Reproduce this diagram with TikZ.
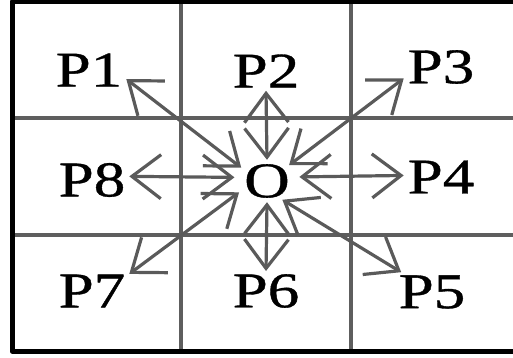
\documentclass[tikz,border=0pt]{standalone}
\usepackage{fontspec}
\setmainfont{Liberation Serif}
\newfontfamily\cellfont[FakeBold=0.7]{Liberation Serif}
\usetikzlibrary{arrows.meta,shapes.geometric}
\definecolor{gridgray}{HTML}{5E5E5E}
\definecolor{arrgray}{HTML}{5A5A5A}
\begin{document}
\begin{tikzpicture}[x=1pt,y=-1pt,line join=round,
		lbl/.style={font=\cellfont\fontsize{50}{50}\selectfont,xscale=1.26,inner sep=3pt},
		arr/.style={draw=arrgray,line width=3.2pt,{Straight Barb[length=29pt,width=44pt]}-{Straight Barb[length=29pt,width=44pt]}}]
	\useasboundingbox (0,0) rectangle (513,358);
	% grid
	\foreach \i in {181,351} {
		\draw[color=gridgray, line width=4.5pt] (\i,2) -- (\i,351);
	}
	\foreach \j in {118,235} {
		\draw[color=gridgray, line width=4.5pt] (12,\j) -- (513,\j);
	}
	\draw[line width=5pt] (513,2) -- (12,2) -- (12,351) -- (513,351);
	
	% cells
	\node[lbl] (P1) at (89,70) {P1};
	\node[lbl] (P2) at (266,71) {P2};
	\node[lbl] (P3) at (441,67) {P3};
	\node[lbl] (P8) at (92,180) {P8};
	\node[lbl,ellipse,inner xsep=0pt,inner ysep=-3.5pt,minimum width=52pt,minimum height=42pt] (O) at (267,181) {O};
	\node[lbl] (P4) at (441,177) {P4};
	\node[lbl] (P7) at (92,291) {P7};
	\node[lbl] (P6) at (266,291) {P6};
	\node[lbl] (P5) at (432,292) {P5};
	
	\draw[arr] (P1.-17) -- (O.147);
	\draw[arr] (P2.south) -- (O.north);
	\draw[arr] (P3.201) -- (O.42);
	\draw[arr] (P8.7) -- (O.172);
	\draw[arr] (P4.177) -- (O.9);
	\draw[arr] (P7.30) -- (O.207);
	\draw[arr] (P6.north) -- (O.south);
	\draw[arr] (P5.141) -- (O.303);
\end{tikzpicture}
\end{document}
